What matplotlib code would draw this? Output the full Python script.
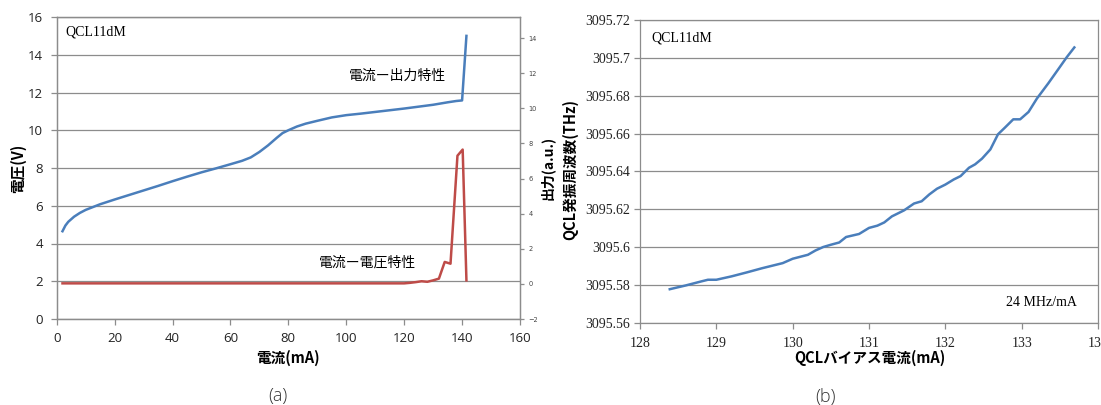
import matplotlib
matplotlib.use("Agg")
import matplotlib.pyplot as plt
from matplotlib.ticker import FixedLocator, FixedFormatter

# ---------------- data ----------------
# (a) current - voltage (left axis, V)
iv_current = [2, 3, 4, 6, 8, 10, 12, 15, 20, 25, 30, 35, 40, 45, 50, 55, 60, 64, 67,
              70, 73, 76, 78, 80, 83, 86, 90, 95, 100, 105, 110, 115, 120, 125, 130,
              135, 138, 140, 141.5]
iv_voltage = [4.65, 4.95, 5.15, 5.42, 5.62, 5.78, 5.9, 6.08, 6.33, 6.57, 6.81, 7.05,
              7.3, 7.54, 7.77, 7.98, 8.2, 8.38, 8.56, 8.85, 9.2, 9.6, 9.85, 10.0,
              10.2, 10.35, 10.5, 10.68, 10.8, 10.88, 10.97, 11.06, 11.15, 11.25,
              11.35, 11.48, 11.55, 11.58, 15.0]
# (a) current - output (right axis, a.u.)
lp_current = [2, 120, 122, 124, 126, 128, 130, 132, 134, 136, 138.4, 140.2, 141.5]
lp_output = [0.03, 0.03, 0.06, 0.1, 0.15, 0.12, 0.2, 0.3, 1.25, 1.15, 7.3, 7.65, 0.2]

# (b) tuning
tune_current = [128.39, 128.6, 128.8, 128.89, 129.0, 129.2, 129.4, 129.6, 129.8, 129.87,
                130.0, 130.2, 130.3, 130.4, 130.5, 130.61, 130.7, 130.87, 131.0,
                131.11, 131.2, 131.3, 131.46, 131.59, 131.69, 131.79, 131.89, 132.0,
                132.11, 132.2, 132.31, 132.39, 132.48, 132.59, 132.69, 132.78, 132.89,
                132.98, 133.09, 133.2, 133.35, 133.48, 133.59, 133.69]
tune_freq = [3095.5777, 3095.5797, 3095.5818, 3095.5827, 3095.5827, 3095.5845,
             3095.5866, 3095.5888, 3095.5908, 3095.5915, 3095.5938, 3095.5959,
             3095.5982, 3095.6, 3095.6012, 3095.6024, 3095.6053, 3095.6069,
             3095.6101, 3095.6113, 3095.613, 3095.6162, 3095.6194, 3095.623,
             3095.6242, 3095.6278, 3095.6308, 3095.633, 3095.6357, 3095.6375,
             3095.6419, 3095.6437, 3095.6467, 3095.6516, 3095.6596, 3095.6631,
             3095.6675, 3095.6675, 3095.6714, 3095.6785, 3095.6866, 3095.694,
             3095.7003, 3095.7055]

a_xticks = [0, 20, 40, 60, 80, 100, 120, 140, 160]
a_yticks = [0, 2, 4, 6, 8, 10, 12, 14, 16]
a_y2ticks = [-2, 0, 2, 4, 6, 8, 10, 12, 14]
b_xticks = [128, 129, 130, 131, 132, 133, 134]
b_yticks = [3095.56, 3095.58, 3095.60, 3095.62, 3095.64, 3095.66, 3095.68, 3095.70, 3095.72]
b_ylabels = ["3095.56", "3095.58", "3095.6", "3095.62", "3095.64", "3095.66",
             "3095.68", "3095.7", "3095.72"]

# ---------------- style ----------------
W, H = 1101, 405
BLUE = "#4a7ebb"
RED = "#be4b48"
GRID = "#8c8c8c"
JP = ["Noto Sans CJK JP", "DejaVu Sans"]
SANS = ["Open Sans", "DejaVu Sans"]
SERIF = ["Liberation Serif", "DejaVu Serif"]

fig = plt.figure(figsize=(W / 100, H / 100), dpi=100)


def rect(x0, y0, x1, y1):
    return [x0 / W, 1 - y1 / H, (x1 - x0) / W, (y1 - y0) / H]


def ftext(x, y, s, **kw):
    fig.text(x / W, 1 - y / H, s, **kw)


def style_axes(a):
    for sp in a.spines.values():
        sp.set_color(GRID)
        sp.set_linewidth(0.9)
    a.tick_params(colors=GRID, labelcolor="#222222", direction="out", length=4, width=0.9)


# ---------------- panel (a) ----------------
ax = fig.add_axes(rect(56.7, 17, 520, 319))
ax2 = ax.twinx()
style_axes(ax)
style_axes(ax2)
ax.set_xlim(0, 160)
ax.set_ylim(0, 16)
ax.xaxis.set_major_locator(FixedLocator(a_xticks))
ax.yaxis.set_major_locator(FixedLocator(a_yticks))
ax.yaxis.grid(True, color=GRID, lw=0.9)
ax.set_axisbelow(True)
for lab in ax.get_xticklabels() + ax.get_yticklabels():
    lab.set_family(SANS)
    lab.set_fontsize(9.5)
ax.tick_params(axis="x", pad=5)
ax.tick_params(axis="y", pad=6)
ax.plot(iv_current, iv_voltage, color=BLUE, lw=1.8, solid_joinstyle="round")

ax2.set_ylim(-2, 15.2)
ax2.yaxis.set_major_locator(FixedLocator(a_y2ticks))
ax2.tick_params(axis="y", length=3, labelsize=4.8, pad=3, labelcolor="#444444")
ax2.plot(lp_current, lp_output, color=RED, lw=1.8, solid_joinstyle="round")

ftext(65, 32, "QCL11dM", family=SERIF, fontsize=10, ha="left", va="center")
ftext(398, 76, "電流ー出力特性", family=JP, fontsize=10, ha="center", va="center")
ftext(367, 263, "電流ー電圧特性", family=JP, fontsize=10, ha="center", va="center")
ftext(288, 358, "電流(mA)", family=JP, fontsize=10.5, fontweight="bold", ha="center", va="center")
ftext(18, 168, "電圧(V)", family=JP, fontsize=10.5, fontweight="bold", ha="center", va="center", rotation=90)
ftext(547, 168, "出力(a.u.)", family=JP, fontsize=10, fontweight="bold", ha="center", va="center", rotation=90)
ftext(278, 396, "(a)", family=SANS, fontsize=13, fontweight="light", ha="center", va="center", color="#333333")

# ---------------- panel (b) ----------------
bx = fig.add_axes(rect(640, 20, 1098, 322.7))
style_axes(bx)
bx.set_xlim(128, 134)
bx.set_ylim(3095.56, 3095.72)
bx.xaxis.set_major_locator(FixedLocator(b_xticks))
bx.yaxis.set_major_locator(FixedLocator(b_yticks))
bx.yaxis.set_major_formatter(FixedFormatter(b_ylabels))
bx.yaxis.grid(True, color=GRID, lw=0.9)
bx.set_axisbelow(True)
for lab in bx.get_xticklabels() + bx.get_yticklabels():
    lab.set_family(SERIF)
    lab.set_fontsize(10)
bx.tick_params(axis="x", pad=6)
bx.tick_params(axis="y", pad=3)
bx.plot(tune_current, tune_freq, color=BLUE, lw=1.8, solid_joinstyle="round")

ftext(651, 38, "QCL11dM", family=SERIF, fontsize=10, ha="left", va="center")
ftext(1041, 303, "24 MHz/mA", family=SERIF, fontsize=10, ha="center", va="center")
ftext(870, 358, "QCLバイアス電流(mA)", family=JP, fontsize=10.5, fontweight="bold", ha="center", va="center")
ftext(570, 170, "QCL発振周波数(THz)", family=JP, fontsize=10.5, fontweight="bold", ha="center", va="center", rotation=90)
ftext(825, 397, "(b)", family=SANS, fontsize=13, fontweight="light", ha="center", va="center", color="#333333")

fig.savefig("out.png", dpi=100)
